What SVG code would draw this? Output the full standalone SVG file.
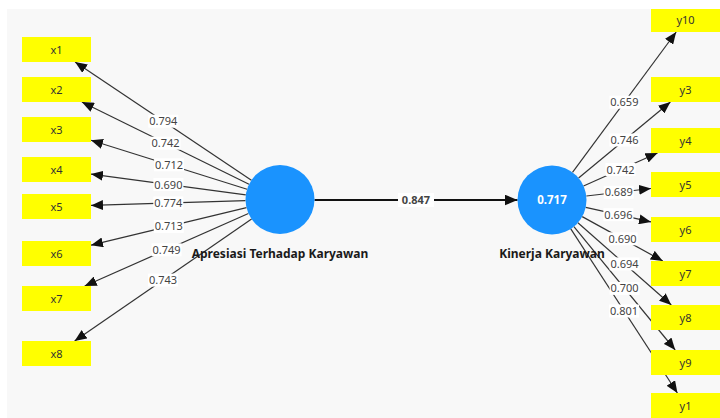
<svg xmlns="http://www.w3.org/2000/svg" width="720" height="418" viewBox="0 0 720 418">
<defs>
<marker id="ah" markerUnits="userSpaceOnUse" markerWidth="12" markerHeight="10" refX="12" refY="5" orient="auto" viewBox="0 0 12 10">
<path d="M0,0 L12,5 L0,10 z" fill="#111"/>
</marker>
<marker id="ahb" markerUnits="userSpaceOnUse" markerWidth="13" markerHeight="11" refX="13" refY="5.5" orient="auto" viewBox="0 0 13 11">
<path d="M0,0 L13,5.5 L0,11 z" fill="#111"/>
</marker>
</defs>
<style>
.ln{stroke:#333;stroke-width:1.2;fill:none;marker-end:url(#ah)}
.main{stroke:#111;stroke-width:2;fill:none;marker-end:url(#ahb)}
.lb rect{fill:#fff}
.lb text{font-family:"Noto Sans","Open Sans",sans-serif;font-size:11px;fill:#444;text-anchor:middle}
.box{fill:#ffff00}
.bt{font-family:"Noto Sans","Open Sans",sans-serif;font-size:11px;fill:#333;text-anchor:middle}
.circ{fill:#1a93fe}
.nt{font-family:"Noto Sans","Open Sans",sans-serif;font-size:12px;font-weight:bold;fill:#1a1a1a;text-anchor:middle}
.ct{font-family:"Noto Sans","Open Sans",sans-serif;font-size:11.5px;font-weight:bold;fill:#fff;text-anchor:middle}
</style>
<rect x="7" y="9" width="713" height="409" fill="#f8f8f8"/>
<g id="connectors">
<line class="main" x1="314.5" y1="200" x2="517.5" y2="200"/>
<line class="ln" x1="251.4" y1="180.3" x2="75.1" y2="62"/>
<line class="ln" x1="249.0" y1="184.3" x2="81.9" y2="102"/>
<line class="ln" x1="247.1" y1="189.2" x2="91" y2="140.3"/>
<line class="ln" x1="245.8" y1="194.9" x2="91" y2="174.1"/>
<line class="ln" x1="245.5" y1="200.6" x2="91" y2="205.4"/>
<line class="ln" x1="246.5" y1="207.6" x2="91" y2="245.2"/>
<line class="ln" x1="248.4" y1="213.5" x2="84.7" y2="286"/>
<line class="ln" x1="251.6" y1="219.1" x2="74.6" y2="341"/>
<line class="ln" x1="572.5" y1="172.3" x2="676.2" y2="32"/>
<line class="ln" x1="578.6" y1="178" x2="670.4" y2="102"/>
<line class="ln" x1="583.5" y1="186" x2="657.5" y2="153"/>
<line class="ln" x1="586.3" y1="196" x2="651" y2="188.5"/>
<line class="ln" x1="585.7" y1="207.4" x2="651" y2="221.9"/>
<line class="ln" x1="582.2" y1="216.6" x2="662.8" y2="261"/>
<line class="ln" x1="577.9" y1="222.8" x2="671.3" y2="305"/>
<line class="ln" x1="573.9" y1="226.7" x2="675.2" y2="350"/>
<line class="ln" x1="570.8" y1="228.9" x2="677.4" y2="393"/>
<g class="lb">
<rect x="148.3" y="114.7" width="30" height="13"/><text x="163.3" y="125.2">0.794</text>
<rect x="150.5" y="136.7" width="30" height="13"/><text x="165.5" y="147.2">0.742</text>
<rect x="154.1" y="158.3" width="30" height="13"/><text x="169.1" y="168.8">0.712</text>
<rect x="153.4" y="178" width="30" height="13"/><text x="168.4" y="188.5">0.690</text>
<rect x="153.3" y="196.5" width="30" height="13"/><text x="168.3" y="207">0.774</text>
<rect x="153.8" y="219.9" width="30" height="13"/><text x="168.8" y="230.4">0.713</text>
<rect x="151.6" y="243.3" width="30" height="13"/><text x="166.6" y="253.8">0.749</text>
<rect x="148.1" y="273.6" width="30" height="13"/><text x="163.1" y="284.1">0.743</text>
<rect x="609.4" y="95.7" width="30" height="13"/><text x="624.4" y="106.2">0.659</text>
<rect x="609.5" y="133.5" width="30" height="13"/><text x="624.5" y="144">0.746</text>
<rect x="605.5" y="163" width="30" height="13"/><text x="620.5" y="173.5">0.742</text>
<rect x="603.7" y="185.8" width="30" height="13"/><text x="618.7" y="196.3">0.689</text>
<rect x="603.4" y="208.2" width="30" height="13"/><text x="618.4" y="218.7">0.696</text>
<rect x="607.5" y="232.3" width="30" height="13"/><text x="622.5" y="242.8">0.690</text>
<rect x="609.6" y="257.4" width="30" height="13"/><text x="624.6" y="267.9">0.694</text>
<rect x="609.6" y="281.9" width="30" height="13"/><text x="624.6" y="292.4">0.700</text>
<rect x="609.1" y="304.5" width="30" height="13"/><text x="624.1" y="315">0.801</text>
<rect x="398" y="193" width="36" height="14"/><text x="416" y="204" font-weight="bold" fill="#111" font-size="11.5">0.847</text>
</g>
</g>
<g id="apresiasi"><circle class="circ" cx="280" cy="199.5" r="34.5"/><text class="nt" x="280" y="257.5">Apresiasi Terhadap Karyawan</text></g>
<g id="kinerja"><circle class="circ" cx="552" cy="200" r="34.5"/><text class="ct" x="552" y="204">0.717</text><text class="nt" x="552" y="257.5">Kinerja Karyawan</text></g>
<g id="x1"><rect class="box" x="22" y="37" width="69" height="25"/><text class="bt" x="56.5" y="53.5">x1</text></g>
<g id="x2"><rect class="box" x="22" y="77" width="69" height="25"/><text class="bt" x="56.5" y="93.5">x2</text></g>
<g id="x3"><rect class="box" x="22" y="117" width="69" height="25"/><text class="bt" x="56.5" y="133.5">x3</text></g>
<g id="x4"><rect class="box" x="22" y="157" width="69" height="25"/><text class="bt" x="56.5" y="173.5">x4</text></g>
<g id="x5"><rect class="box" x="22" y="194" width="69" height="25"/><text class="bt" x="56.5" y="210.5">x5</text></g>
<g id="x6"><rect class="box" x="22" y="241" width="69" height="25"/><text class="bt" x="56.5" y="257.5">x6</text></g>
<g id="x7"><rect class="box" x="22" y="286" width="69" height="25"/><text class="bt" x="56.5" y="302.5">x7</text></g>
<g id="x8"><rect class="box" x="22" y="341" width="69" height="25"/><text class="bt" x="56.5" y="357.5">x8</text></g>
<g id="y10"><rect class="box" x="651" y="9" width="69" height="23"/><text class="bt" x="685.5" y="24">y10</text></g>
<g id="y3"><rect class="box" x="651" y="77" width="69" height="25"/><text class="bt" x="685.5" y="93.5">y3</text></g>
<g id="y4"><rect class="box" x="651" y="128" width="69" height="25"/><text class="bt" x="685.5" y="144.5">y4</text></g>
<g id="y5"><rect class="box" x="651" y="172" width="69" height="25"/><text class="bt" x="685.5" y="188.5">y5</text></g>
<g id="y6"><rect class="box" x="651" y="217" width="69" height="25"/><text class="bt" x="685.5" y="233.5">y6</text></g>
<g id="y7"><rect class="box" x="651" y="261" width="69" height="25"/><text class="bt" x="685.5" y="277.5">y7</text></g>
<g id="y8"><rect class="box" x="651" y="305" width="69" height="25"/><text class="bt" x="685.5" y="321.5">y8</text></g>
<g id="y9"><rect class="box" x="651" y="350" width="69" height="25"/><text class="bt" x="685.5" y="366.5">y9</text></g>
<g id="y1"><rect class="box" x="651" y="393" width="69" height="25"/><text class="bt" x="685.5" y="409.5">y1</text></g>
</svg>
